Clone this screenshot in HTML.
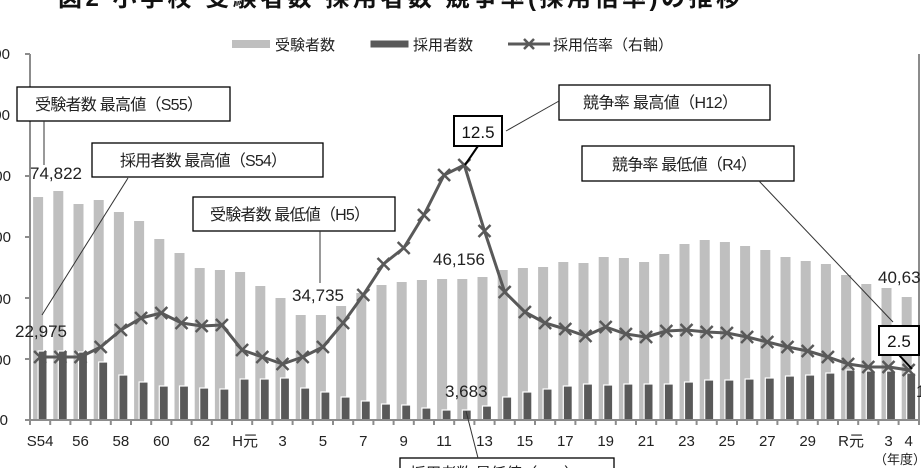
<!DOCTYPE html>
<html><head><meta charset="utf-8"><style>
html,body{margin:0;padding:0;background:#fff;}
svg{display:block;font-family:"Liberation Sans","Noto Sans CJK JP",sans-serif;}
</style></head><body>
<svg id="c" width="921" height="468" viewBox="0 0 921 468" xmlns="http://www.w3.org/2000/svg">
<rect width="921" height="468" fill="#fff"/>
<text x="58" y="6" font-size="24" font-weight="bold" fill="#111" textLength="682" lengthAdjust="spacing">図2  小学校  受験者数  採用者数  競争率(採用倍率)の推移</text>
<!-- legend -->
<rect x="232" y="40" width="38" height="8" fill="#bfbfbf"/>
<text x="275" y="50" font-size="15" fill="#222">受験者数</text>
<rect x="370" y="40" width="39" height="8" fill="#595959" stroke="#fff"/>
<text x="413" y="50" font-size="15" fill="#222">採用者数</text>
<line x1="508" y1="44" x2="550" y2="44" stroke="#595959" stroke-width="3"/>
<path d="M524 39 L534 49 M534 39 L524 49" stroke="#595959" stroke-width="2.5"/>
<text x="553" y="50" font-size="15" fill="#222">採用倍率（右軸）</text>
<!-- left axis labels (clipped) -->
<g font-size="15" fill="#222" text-anchor="end">
<text x="10" y="59">140,000</text><text x="10" y="120">120,000</text><text x="11" y="181">100,000</text>
<text x="11" y="242">80,000</text><text x="11" y="304">60,000</text><text x="11" y="365">40,000</text><text x="8" y="425">0</text>
</g>
<g id="bars"></g>
<g id="axes" stroke="#8c8c8c" stroke-width="2" fill="none">
<line x1="30" y1="54" x2="30" y2="421"/>
<line x1="919" y1="54" x2="919" y2="421"/>
<line x1="29" y1="420" x2="920" y2="420"/>
</g>
<g id="ln"></g>
<!-- x labels -->
<g font-size="15" fill="#222" text-anchor="middle" id="xl"></g>
<text x="900" y="464" font-size="13" fill="#222" text-anchor="middle">（年度）</text>
<!-- annotations -->
<g stroke="#000" fill="#fff" stroke-width="1.3">
<rect x="17" y="87" width="213" height="34"/>
<rect x="92" y="143" width="231" height="34"/>
<rect x="193" y="197" width="202" height="34"/>
<rect x="559" y="85" width="211" height="35"/>
<rect x="582" y="146" width="212" height="35"/>
<rect x="400" y="458" width="214" height="30"/>
</g>
<g stroke="#333" stroke-width="1" fill="none">
<line x1="44" y1="121" x2="44" y2="165"/>
<line x1="128" y1="178" x2="42" y2="315"/>
<line x1="320" y1="231" x2="320" y2="283"/>
<line x1="466" y1="411" x2="478" y2="458"/>
<line x1="506" y1="131" x2="559" y2="101"/>
<line x1="759" y1="181" x2="893" y2="322"/>
</g>
<g stroke="#000" stroke-width="2">
<line x1="478" y1="146" x2="465" y2="165"/>
<line x1="899" y1="355" x2="912" y2="369"/>
</g>
<rect x="454" y="116" width="48" height="30" fill="#fff" stroke="#000" stroke-width="2"/>
<text x="478" y="138" font-size="17" text-anchor="middle" fill="#111">12.5</text>
<rect x="879" y="326" width="40" height="29" fill="#fff" stroke="#000" stroke-width="2"/>
<text x="899" y="347" font-size="17" text-anchor="middle" fill="#111">2.5</text>
<g font-size="16" fill="#222" lengthAdjust="spacingAndGlyphs">
<text x="35" y="110" textLength="168">受験者数 最高値（S55）</text>
<text x="120" y="166" textLength="167">採用者数 最高値（S54）</text>
<text x="210" y="220" textLength="160">受験者数 最低値（H5）</text>
<text x="583" y="108" textLength="155">競争率 最高値（H12）</text>
<text x="612" y="170" textLength="145">競争率 最低値（R4）</text>
<text x="410" y="479" textLength="170">採用者数 最低値（H12）</text>
</g>
<g font-size="17" fill="#222">
<text x="30" y="179">74,822</text>
<text x="15" y="337">22,975</text>
<text x="292" y="301">34,735</text>
<text x="433" y="265">46,156</text>
<text x="445" y="397">3,683</text>
<text x="878" y="283">40,63</text>
<text x="916" y="397">1</text>
</g>
<script>
var A=[197,191,204,200,212,221,239,253,268,270,272,286,298,315,315,306,293,285,282,280,279,279,277,270,268,267,262,263,257,258,262,254,244,240,242,246,250,257,261,264,275,284,288,297];
var H=[351,351,352,362,375,382,386,386,388,389,379,379,378,388,392,397,401,404,405,408,410,410,406,397,392,389,386,384,385,384,384,384,382,380,380,379,378,376,375,373,370,371,371,373];
var L=[357,357,357,347,330,318,313,323,326,325,350,357,364,357,347,323,295,264,248,215,175,165,231,292,312,323,329,336,327,334,337,331,330,332,333,337,342,347,351,357,364,367,367,370];
var w=20.2,ns="http://www.w3.org/2000/svg",b=document.getElementById('bars'),ax=document.getElementById('axes'),ln=document.getElementById('ln'),xl=document.getElementById('xl');
function el(t,a,p){var e=document.createElementNS(ns,t);for(var k in a)e.setAttribute(k,a[k]);p.appendChild(e);return e;}
var pts=[];
for(var i=0;i<44;i++){var c=30+w*(i+0.5);
el('rect',{x:c-7,y:A[i],width:10,height:420-A[i],fill:'#bfbfbf'},b);
el('rect',{x:c-2,y:H[i],width:9,height:420-H[i],fill:'#595959',stroke:'#fff','stroke-width':1.2},b);
el('line',{x1:30+w*i,y1:420,x2:30+w*i,y2:425},ax);
pts.push(c.toFixed(1)+','+L[i]);}
el('line',{x1:919,y1:420,x2:919,y2:425},ax);
for(var j=0;j<7;j++)el('line',{x1:25,y1:54+61*j,x2:30,y2:54+61*j},ax);
el('polyline',{points:pts.join(' '),fill:'none',stroke:'#595959','stroke-width':3,'stroke-linejoin':'round'},ln);
for(var i=0;i<44;i++){var c=30+w*(i+0.5),y=L[i];
el('path',{d:'M'+(c-6)+' '+(y-6)+'L'+(c+6)+' '+(y+6)+'M'+(c+6)+' '+(y-6)+'L'+(c-6)+' '+(y+6),stroke:'#595959','stroke-width':2.5},ln);}
var labs={0:'S54',2:'56',4:'58',6:'60',8:'62',10:'H元',12:'3',14:'5',16:'7',18:'9',20:'11',22:'13',24:'15',26:'17',28:'19',30:'21',32:'23',34:'25',36:'27',38:'29',40:'R元',42:'3',43:'4'};
for(var k in labs){var t=el('text',{x:30+w*(+k+0.5)+(k==10||k==40?3:0),y:446},xl);t.textContent=labs[k];}
</script>
</svg>
</body></html>
